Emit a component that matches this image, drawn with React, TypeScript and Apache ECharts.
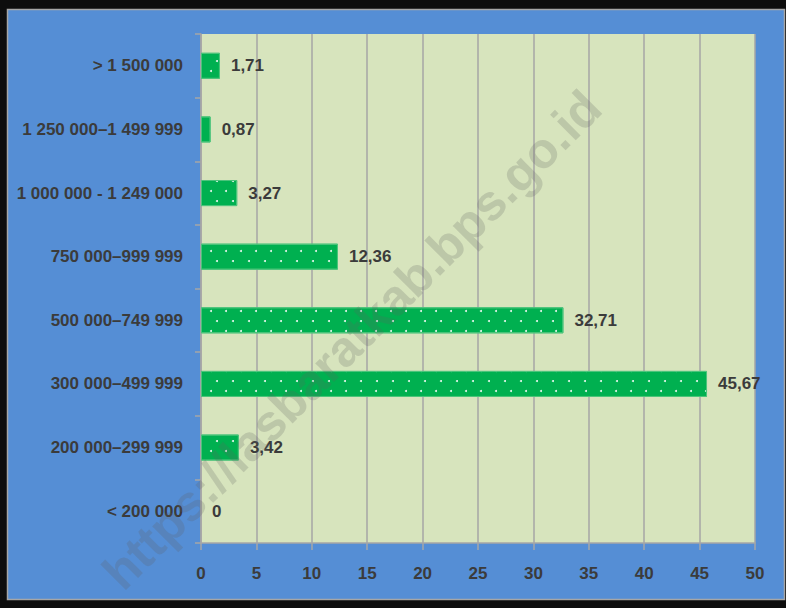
import React, { useEffect, useRef } from "react";
import * as echarts from "echarts";

const categories = [
  "< 200 000",
  "200 000–299 999",
  "300 000–499 999",
  "500 000–749 999",
  "750 000–999 999",
  "1 000 000 - 1 249 000",
  "1 250 000–1 499 999",
  "> 1 500 000",
];
const values = [0, 3.42, 45.67, 32.71, 12.36, 3.27, 0.87, 1.71];
const xMin = 0;
const xMax = 50;
const xInterval = 5;
const watermark = "https://lasbaratkab.bps.go.id";

const FONT = "'Liberation Sans', Arial, sans-serif";
const TEXT = "#3b3b3b";

export default function App() {
  const ref = useRef<HTMLDivElement>(null);
  useEffect(() => {
    if (!ref.current) return;
    const chart = echarts.init(ref.current, undefined, { renderer: "svg" });
    chart.setOption({
      animation: false,
      backgroundColor: "#0d0d0d",
      graphic: [
        {
          type: "rect",
          z: -10,
          silent: true,
          shape: { x: 7.5, y: 9.5, width: 777, height: 590 },
          style: { fill: "#558ED5", stroke: "#A6A6A6", lineWidth: 1.5 },
        },
        {
          type: "text",
          z: 100,
          silent: true,
          x: 352,
          y: 340,
          rotation: Math.PI / 4,
          style: {
            text: watermark,
            fontSize: 50,
            fontWeight: "bold",
            fontFamily: "'Liberation Sans', Arial, sans-serif",
            fill: "rgba(95,95,95,0.22)",
            align: "center",
            verticalAlign: "middle",
          },
        },
      ],
      grid: {
        left: 201,
        right: 31,
        top: 34,
        bottom: 65,
        show: true,
        backgroundColor: "#D7E4BD",
        borderWidth: 0,
        containLabel: false,
        outerBoundsMode: "none",
      },
      xAxis: {
        type: "value",
        min: xMin,
        max: xMax,
        interval: xInterval,
        axisLine: { show: true, lineStyle: { color: "#A6A6A6", width: 1.5 } },
        axisTick: { show: true, length: 7, lineStyle: { color: "#A6A6A6", width: 1.5 } },
        splitLine: { show: true, lineStyle: { color: "#A6A6A6", width: 1.5 } },
        axisLabel: {
          margin: 22,
          fontSize: 17,
          fontWeight: "bold",
          fontFamily: FONT,
          color: TEXT,
        },
      },
      yAxis: {
        type: "category",
        data: categories,
        axisLine: { show: true, lineStyle: { color: "#A6A6A6", width: 1.5 } },
        axisTick: { show: true, length: 6, alignWithLabel: false, lineStyle: { color: "#A6A6A6", width: 1.5 } },
        axisLabel: {
          margin: 18,
          fontSize: 17,
          fontWeight: "bold",
          fontFamily: FONT,
          color: TEXT,
        },
      },
      series: [
        {
          type: "bar",
          data: values.map((v) => ({
            value: v,
            itemStyle: v === 0 ? { borderWidth: 0 } : undefined,
          })),
          barCategoryGap: "59%",
          itemStyle: {
            color: "#00B050",
            borderColor: "#4CC47B",
            borderWidth: 1,
            decal: {
              symbol: "circle",
              symbolSize: 1,
              color: "rgba(255,255,255,0.9)",
              dashArrayX: [
                [2, 13],
                [0, 7.5, 2, 5.5],
              ],
              dashArrayY: [2, 7.5],
            },
          },
          label: {
            show: true,
            position: "right",
            distance: 11,
            fontSize: 17,
            fontWeight: "bold",
            fontFamily: FONT,
            color: TEXT,
            formatter: (p: any) => String(p.value).replace(".", ","),
          },
        },
      ],
    });
    return () => chart.dispose();
  }, []);
  return (
    <div
      ref={ref}
      style={{ position: "fixed", left: 0, top: 0, width: 786, height: 608 }}
    />
  );
}
